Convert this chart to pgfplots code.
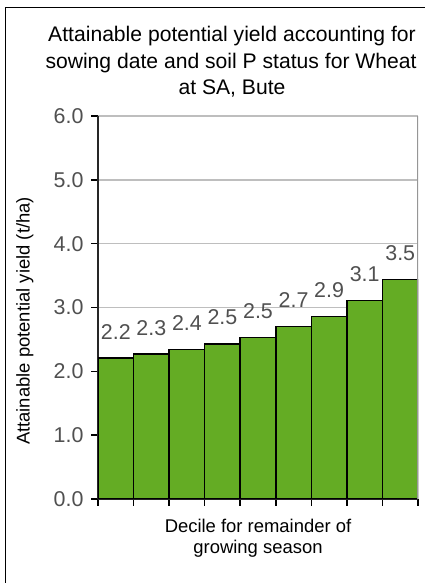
\documentclass[border=0pt]{standalone}
\usepackage{fontspec}
\setmainfont{Liberation Sans}
\usepackage{pgfplots}
\pgfplotsset{compat=1.18}
\definecolor{bargreen}{RGB}{100,172,36}
\definecolor{lblgray}{RGB}{80,80,80}
\definecolor{gridgray}{RGB}{190,190,190}
\definecolor{rightgray}{RGB}{150,150,150}
\begin{document}
\begin{tikzpicture}[x=1bp,y=1bp]
\useasboundingbox (0,0) rectangle (425,583);
\draw[black, line width=1bp] (5.5,0) -- (5.5,575.5) -- (425,575.5);
\node[anchor=base, inner sep=0pt, font=\fontsize{21.2}{24}\selectfont] at (232,541.5) {Attainable potential yield accounting for};
\node[anchor=base, inner sep=0pt, font=\fontsize{21.2}{24}\selectfont] at (231,514.7) {sowing date and soil P status for Wheat};
\node[anchor=base, inner sep=0pt, font=\fontsize{21.2}{24}\selectfont] at (232,488) {at SA, Bute};
\begin{axis}[
  at={(98bp,84bp)}, anchor=south west,
  scale only axis, width=320bp, height=383bp,
  xmin=0, xmax=9, ymin=0, ymax=6,
  ybar, bar width=1,
  xtick={0,1,...,9}, xticklabels={},
  ytick={0,1,...,6},
  axis x line*=bottom, axis y line*=left,
  axis line style={-, line width=1.5bp, black!85},
  tick align=outside, major tick length=7bp,
  tick style={line width=1.5bp, black},
  ymajorgrids, grid style={line width=1.5bp, gridgray},
  yticklabel style={font=\fontsize{21.5}{24}\selectfont, text=lblgray, xshift=-4bp,
    /pgf/number format/.cd, fixed, fixed zerofill, precision=1, assume math mode=true},
  nodes near coords,
  point meta=explicit symbolic,
  nodes near coords style={font=\fontsize{21.5}{24}\selectfont, text=lblgray, anchor=south, inner sep=0pt, yshift=18bp},
]
\addplot[fill=bargreen, draw=black, line width=1.5bp] table[x=x, y=y, meta=lab] {
x y lab
0.5 2.21 2.2
1.5 2.27 2.3
2.5 2.34 2.4
3.5 2.43 2.5
4.5 2.53 2.5
5.5 2.70 2.7
6.5 2.86 2.9
7.5 3.11 3.1
8.5 3.44 3.5
};
\draw[rightgray, line width=3bp] (rel axis cs:1,0) -- (rel axis cs:1,1);
\end{axis}
\node[anchor=base, rotate=90, inner sep=0pt, font=\fontsize{18.5}{22}\selectfont] at (29.5,262) {Attainable potential yield (t/ha)};
\node[anchor=base, inner sep=0pt, font=\fontsize{18.5}{22}\selectfont] at (258,50.3) {Decile for remainder of};
\node[anchor=base, inner sep=0pt, font=\fontsize{18.5}{22}\selectfont] at (258,29.7) {growing season};
\end{tikzpicture}
\end{document}
